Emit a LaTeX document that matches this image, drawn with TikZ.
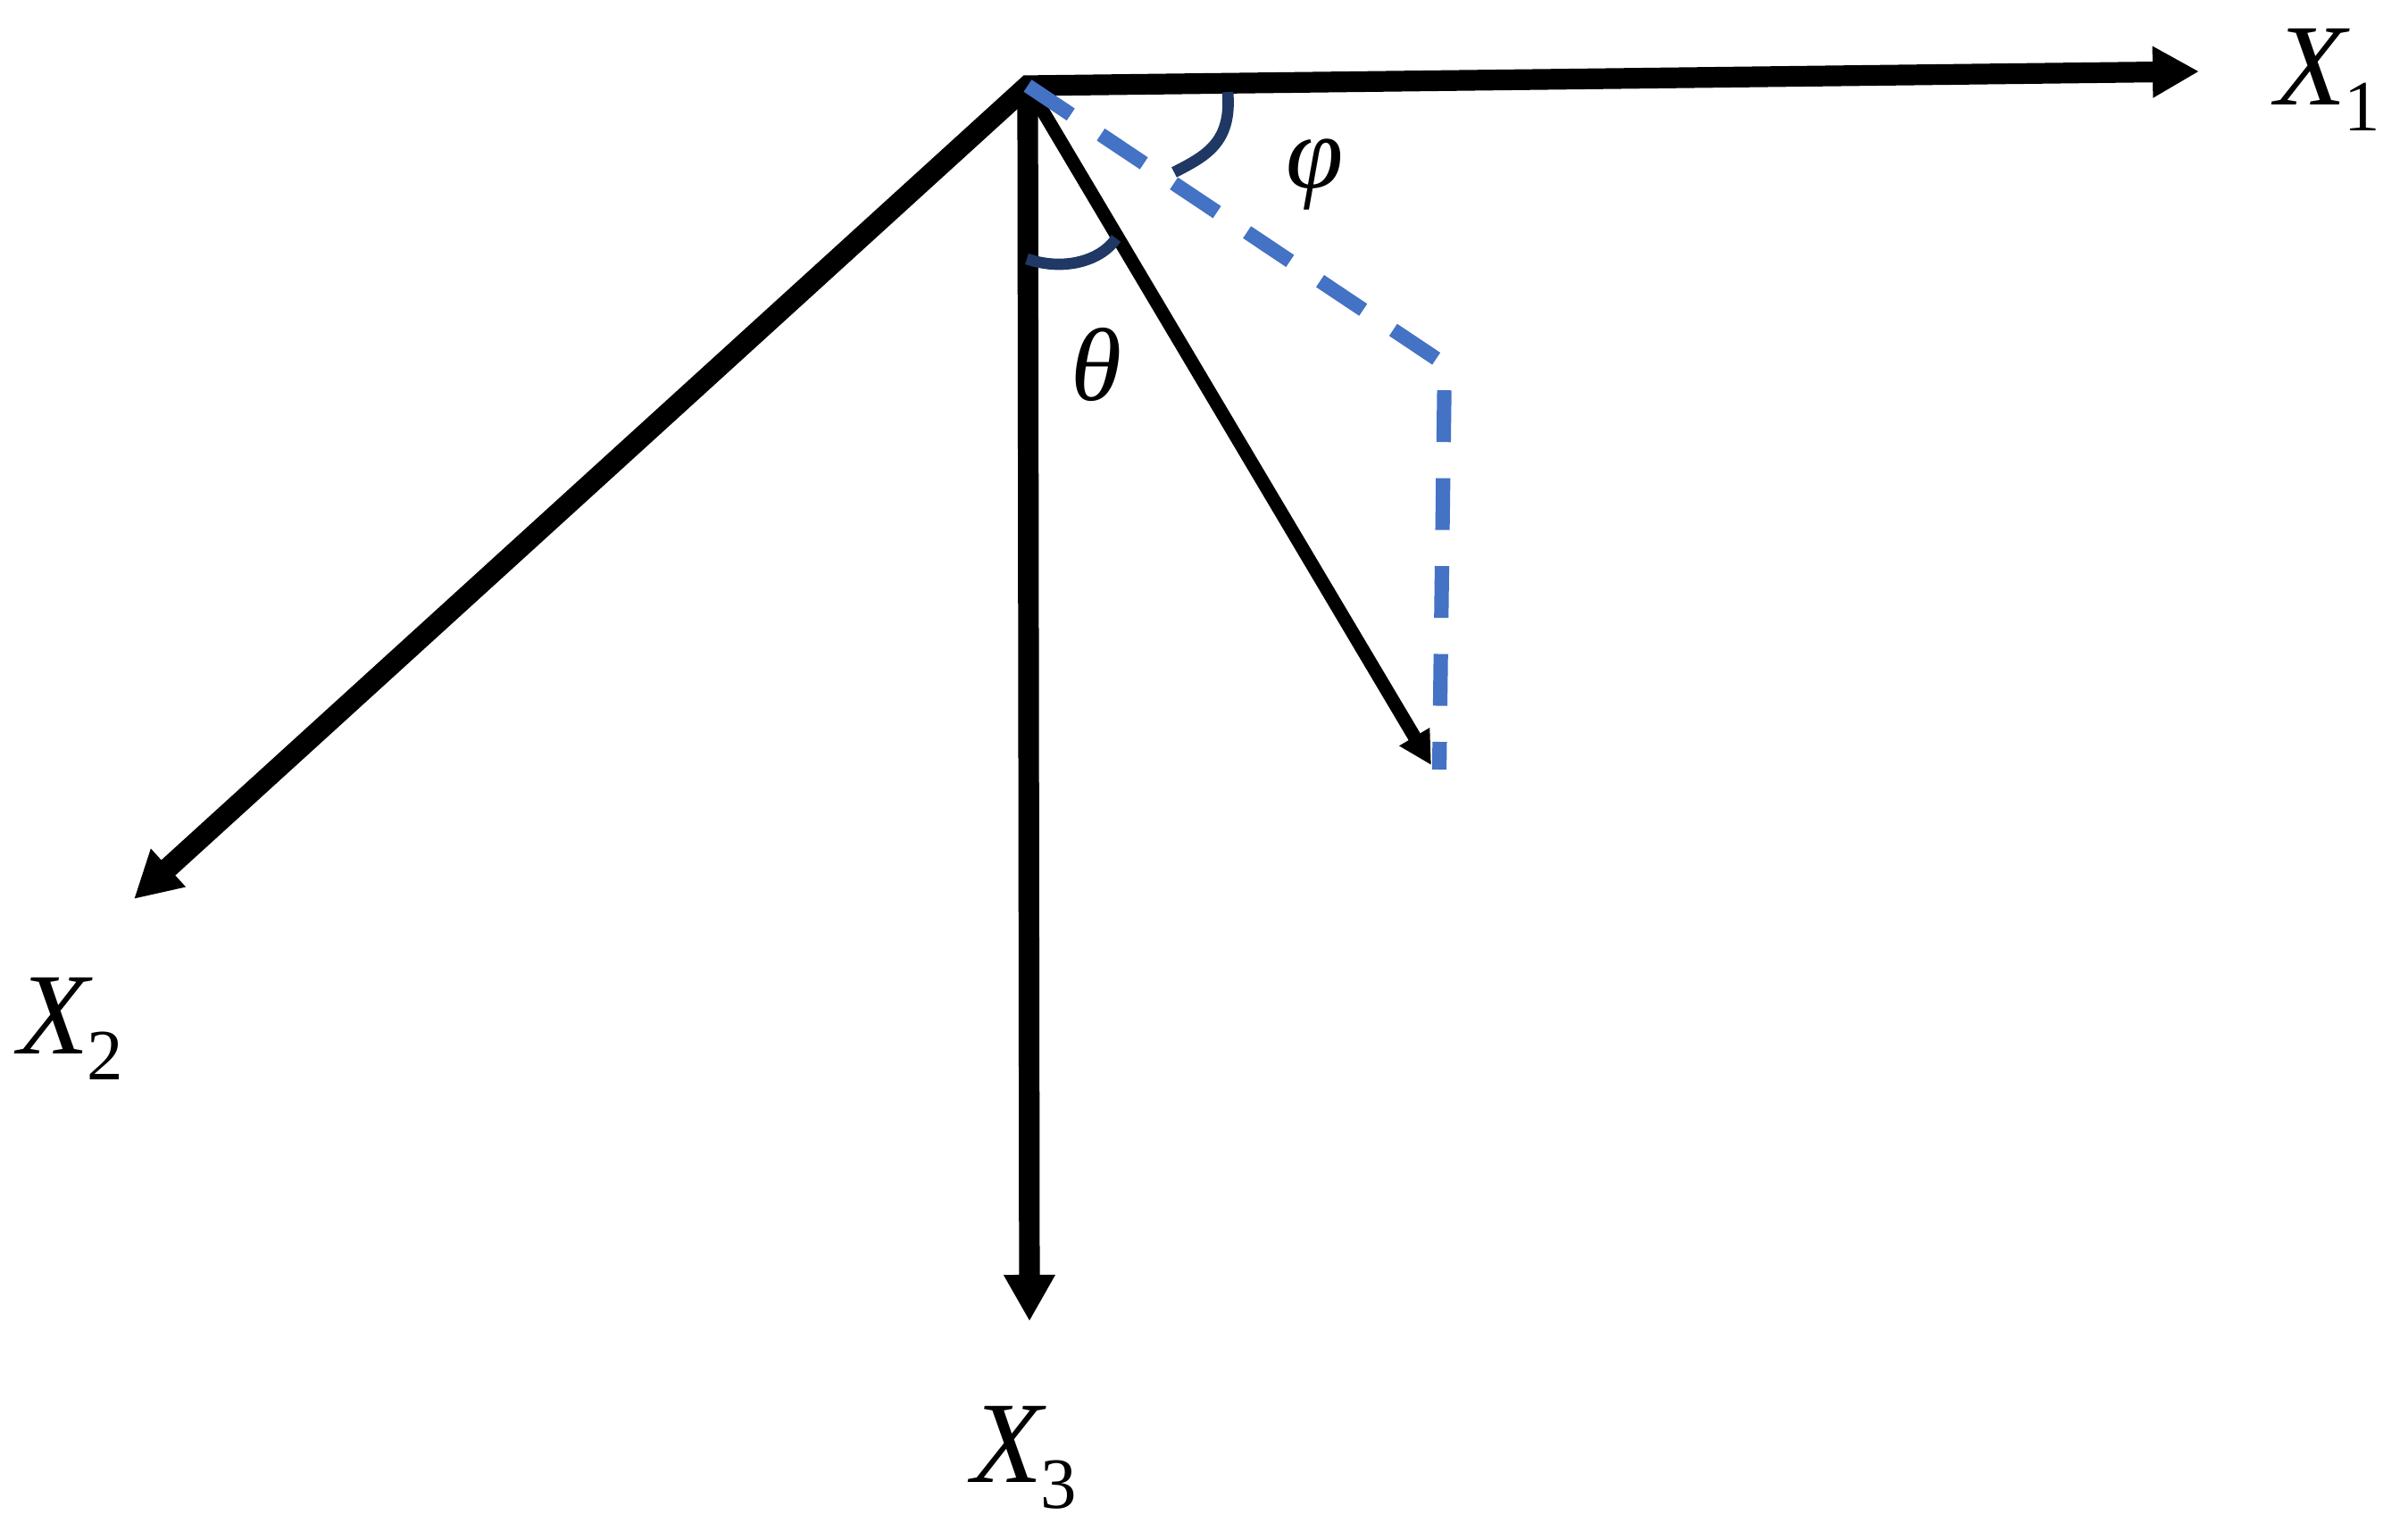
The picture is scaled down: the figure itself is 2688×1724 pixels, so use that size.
\documentclass[tikz,border=0pt]{standalone}
\usepackage{fontspec}
\setmainfont{Liberation Serif}
\usetikzlibrary{arrows.meta}
\definecolor{projblue}{RGB}{68,114,196}
\definecolor{anglenavy}{RGB}{31,56,100}
\newcommand{\axlbl}[1]{\textit{X}\kern-2pt\lower8.5pt\hbox{\fontsize{23}{26}\selectfont #1}}
\tikzset{axistip/.tip={Triangle[length=14.8pt,width=15.4pt]},
  vectip/.tip={Triangle[length=10.5pt,width=10.5pt]}}
\begin{document}
\begin{tikzpicture}[x=0.01cm,y=0.01cm,
  axisarrow/.style={line width=6.6pt,-axistip},
  vecarrow/.style={line width=4.3pt,-vectip},
  projline/.style={projblue,line width=4.6pt,dash pattern=on 16.5pt off 11.5pt},
  anglemark/.style={anglenavy,line width=3.6pt},
  lbl/.style={inner sep=0pt,font=\fontsize{37}{42}\selectfont},
  grk/.style={inner sep=0pt,font=\fontsize{33}{38}\selectfont\itshape}]
\useasboundingbox (0,0) rectangle (2688,-1724);
\coordinate (O) at (1151,-96);
\coordinate (E1) at (2463,-80);
\coordinate (E2) at (150,-1007);
\coordinate (E3) at (1153,-1480);
\coordinate (V) at (1603,-857);
\coordinate (Q) at (1618,-408);
\coordinate (R) at (1612,-862);
% axes
\draw[axisarrow,axistip-axistip,line join=miter] (E2)--(O)--(E1);
\draw[axisarrow] (O)--(E3);
% vector and its projection
\draw[vecarrow] (O)--(V);
\draw[projline] (O)--(Q)--(R);
% angles
\draw[anglemark] (1375,-103) .. controls (1380,-160) and (1350,-175) .. (1315,-193);
\draw[anglemark] (1150,-290) .. controls (1195,-305) and (1235,-290) .. (1250,-267);
\node[grk] (phi) at (1473,-195) {φ};
\node[grk] (theta) at (1228,-408) {θ};
\node[lbl,anchor=base west] (x1) at (2548,-117) {\axlbl{1}};
\node[lbl,anchor=base west] (x2) at (20,-1180) {\axlbl{2}};
\node[lbl,anchor=base west] (x3) at (1088,-1660) {\axlbl{3}};
\end{tikzpicture}
\end{document}
